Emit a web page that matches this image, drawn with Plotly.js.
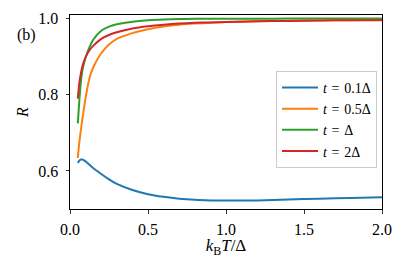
<!DOCTYPE html>
<html>
<head>
<meta charset="utf-8">
<script src="https://cdn.plot.ly/plotly-3.0.1.min.js"></script>
<style>
html,body{margin:0;padding:0;background:#fff;}
#chart{width:415px;height:258px;}
</style>
</head>
<body>
<div id="chart"></div>
<script>
const temperature = [0.05,0.06,0.07,0.08,0.1,0.125,0.15,0.2,0.25,0.3,0.4,0.5,0.6,0.7,0.8,0.9,1.0,1.2,1.4,1.6,1.8,2.0];
const seriesNames = ['<i>t</i>\u2004=\u20040.1Δ','<i>t</i>\u2004=\u20040.5Δ','<i>t</i>\u2004=\u2004Δ','<i>t</i>\u2004=\u20042Δ'];
const r_t01 = [0.621,0.627,0.630,0.630,0.625,0.616,0.607,0.592,0.578,0.566,0.550,0.539,0.532,0.527,0.524,0.5225,0.522,0.5225,0.525,0.527,0.529,0.531];
const r_t05 = [0.634,0.676,0.708,0.738,0.792,0.844,0.873,0.909,0.932,0.947,0.962,0.972,0.979,0.984,0.987,0.989,0.991,0.993,0.9945,0.995,0.996,0.997];
const r_t1  = [0.725,0.786,0.835,0.865,0.898,0.925,0.945,0.968,0.979,0.985,0.992,0.996,0.998,0.999,0.9995,0.9997,0.9998,0.9999,1.0,1.0,1.0,1.0];
const r_t2  = [0.790,0.832,0.857,0.876,0.899,0.917,0.929,0.947,0.957,0.964,0.974,0.980,0.984,0.987,0.989,0.990,0.991,0.993,0.994,0.995,0.996,0.996];
const xTickVals = [0,0.5,1.0,1.5,2.0];
const yTickVals = [0.6,0.8,1.0];

const colors = ['#1f77b4','#ff7f0e','#2ca02c','#d62728'];
const allSeries = [r_t01, r_t05, r_t1, r_t2];
const font = '"Liberation Serif", "DejaVu Serif", serif';

const traces = allSeries.map((ys, i) => ({
  x: temperature, y: ys, type: 'scatter', mode: 'lines',
  name: seriesNames[i],
  line: {color: colors[i], width: 2, shape: 'spline', smoothing: 0.6}
}));

const layout = {
  width: 415, height: 258,
  margin: {l: 70, r: 33, t: 15, b: 49, pad: 0},
  paper_bgcolor: '#fff', plot_bgcolor: '#fff',
  font: {family: font, size: 16, color: '#000'},
  showlegend: true,
  legend: {
    x: 0.984, xanchor: 'right', y: 0.712, yanchor: 'top',
    bgcolor: 'rgba(255,255,255,0.8)', bordercolor: '#cccccc', borderwidth: 1,
    font: {family: font, size: 14, color: '#000'}, tracegroupgap: 0,
    itemwidth: 36
  },
  xaxis: {
    range: [0, 2.0], tickvals: xTickVals, tickformat: '.1f',
    ticks: 'outside', ticklen: 3.5, tickwidth: 0.8, tickcolor: '#000',
    showline: true, mirror: true, linecolor: '#000', linewidth: 1,
    showgrid: false, zeroline: false, ticklabelstandoff: 2,
    tickfont: {family: font, size: 16, color: '#000'},
    title: {text: '<i>k</i><sub>B</sub><i>T</i>/Δ', font: {family: font, size: 17, color: '#000'}, standoff: 2}
  },
  yaxis: {
    range: [0.5, 1.0095], tickvals: yTickVals, tickformat: '.1f',
    ticks: 'outside', ticklen: 3.5, tickwidth: 0.8, tickcolor: '#000',
    showline: true, mirror: true, linecolor: '#000', linewidth: 1,
    showgrid: false, zeroline: false, ticklabelstandoff: 4,
    tickfont: {family: font, size: 16, color: '#000'},
    title: {text: '<i>R</i>', font: {family: font, size: 16, color: '#000'}, standoff: 5}
  },
  annotations: [{
    text: '(b)', xref: 'paper', yref: 'paper', x: -0.141, y: 0.897,
    xanchor: 'center', yanchor: 'middle', showarrow: false,
    font: {family: font, size: 16, color: '#000'}
  }]
};

Plotly.newPlot('chart', traces, layout, {displayModeBar: false, staticPlot: true});
</script>
</body>
</html>
